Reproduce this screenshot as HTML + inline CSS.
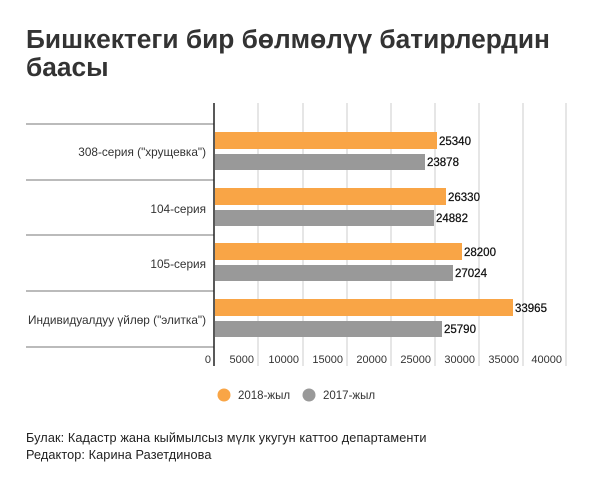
<!DOCTYPE html><html><head><meta charset="utf-8"><style>
body{margin:0;width:600px;height:488px;background:#fff;font-family:"Liberation Sans","DejaVu Sans",sans-serif;color:#333;position:relative;overflow:hidden}
.t{position:absolute;left:26px;top:25px;font-size:26.3px;font-weight:bold;line-height:28px;color:#333}
.f{position:absolute;left:26px;font-size:12.7px;color:#222;letter-spacing:0.1px}
</style></head><body>
<div class="t">Бишкектеги бир бөлмөлүү батирлердин<br>баасы</div>
<svg width="600" height="488" style="position:absolute;left:0;top:0" font-family="Liberation Sans, DejaVu Sans, sans-serif">
<g stroke="#ccc" stroke-width="1">
<line x1="258" y1="103" x2="258" y2="366"/><line x1="303" y1="103" x2="303" y2="366"/><line x1="347" y1="103" x2="347" y2="366"/><line x1="391" y1="103" x2="391" y2="366"/><line x1="435" y1="103" x2="435" y2="366"/><line x1="479" y1="103" x2="479" y2="366"/><line x1="523" y1="103" x2="523" y2="366"/><line x1="566" y1="103" x2="566" y2="366"/>
</g>
<g stroke="#777" stroke-width="1">
<line x1="26" y1="124" x2="214" y2="124"/><line x1="26" y1="180" x2="214" y2="180"/><line x1="26" y1="235" x2="214" y2="235"/><line x1="26" y1="291" x2="214" y2="291"/><line x1="26" y1="347" x2="214" y2="347"/>
</g>
<g fill="#f9a546">
<rect x="215" y="132" width="222" height="17"/><rect x="215" y="188" width="231" height="17"/><rect x="215" y="243" width="247" height="17"/><rect x="215" y="299" width="298" height="17"/>
</g>
<g fill="#999">
<rect x="215" y="154" width="210" height="16"/><rect x="215" y="210" width="219" height="16"/><rect x="215" y="265" width="238" height="16"/><rect x="215" y="321" width="227" height="16"/>
</g>
<line x1="214" y1="103" x2="214" y2="366" stroke="#222" stroke-width="1.5"/>
<g font-size="11.5" fill="#111" stroke="#111" stroke-width="0.25">
<text x="439" y="145">25340</text><text x="427" y="166">23878</text>
<text x="448" y="201">26330</text><text x="436" y="222">24882</text>
<text x="464" y="256">28200</text><text x="455" y="277">27024</text>
<text x="515" y="312">33965</text><text x="444" y="333">25790</text>
</g>
<g font-size="11.8" fill="#333" text-anchor="end">
<text x="206" y="156">308-серия ("хрущевка")</text>
<text x="206" y="213">104-серия</text>
<text x="206" y="268">105-серия</text>
<text x="206" y="324">Индивидуалдуу үйлөр ("элитка")</text>
</g>
<g font-size="11" fill="#333" text-anchor="end">
<text x="211" y="363">0</text><text x="254" y="363">5000</text><text x="299" y="363">10000</text><text x="343" y="363">15000</text><text x="387" y="363">20000</text><text x="431" y="363">25000</text><text x="475" y="363">30000</text><text x="519" y="363">35000</text><text x="562" y="363">40000</text>
</g>
<circle cx="224" cy="395" r="6.5" fill="#f9a546"/><text x="238" y="399" font-size="11.5" fill="#333">2018-жыл</text>
<circle cx="309" cy="395" r="6.5" fill="#999"/><text x="323" y="399" font-size="11.5" fill="#333">2017-жыл</text>
</svg>
<div class="f" style="top:431px">Булак: Кадастр жана кыймылсыз мүлк укугун каттоо департаменти</div>
<div class="f" style="top:448px">Редактор: Карина Разетдинова</div>
</body></html>
